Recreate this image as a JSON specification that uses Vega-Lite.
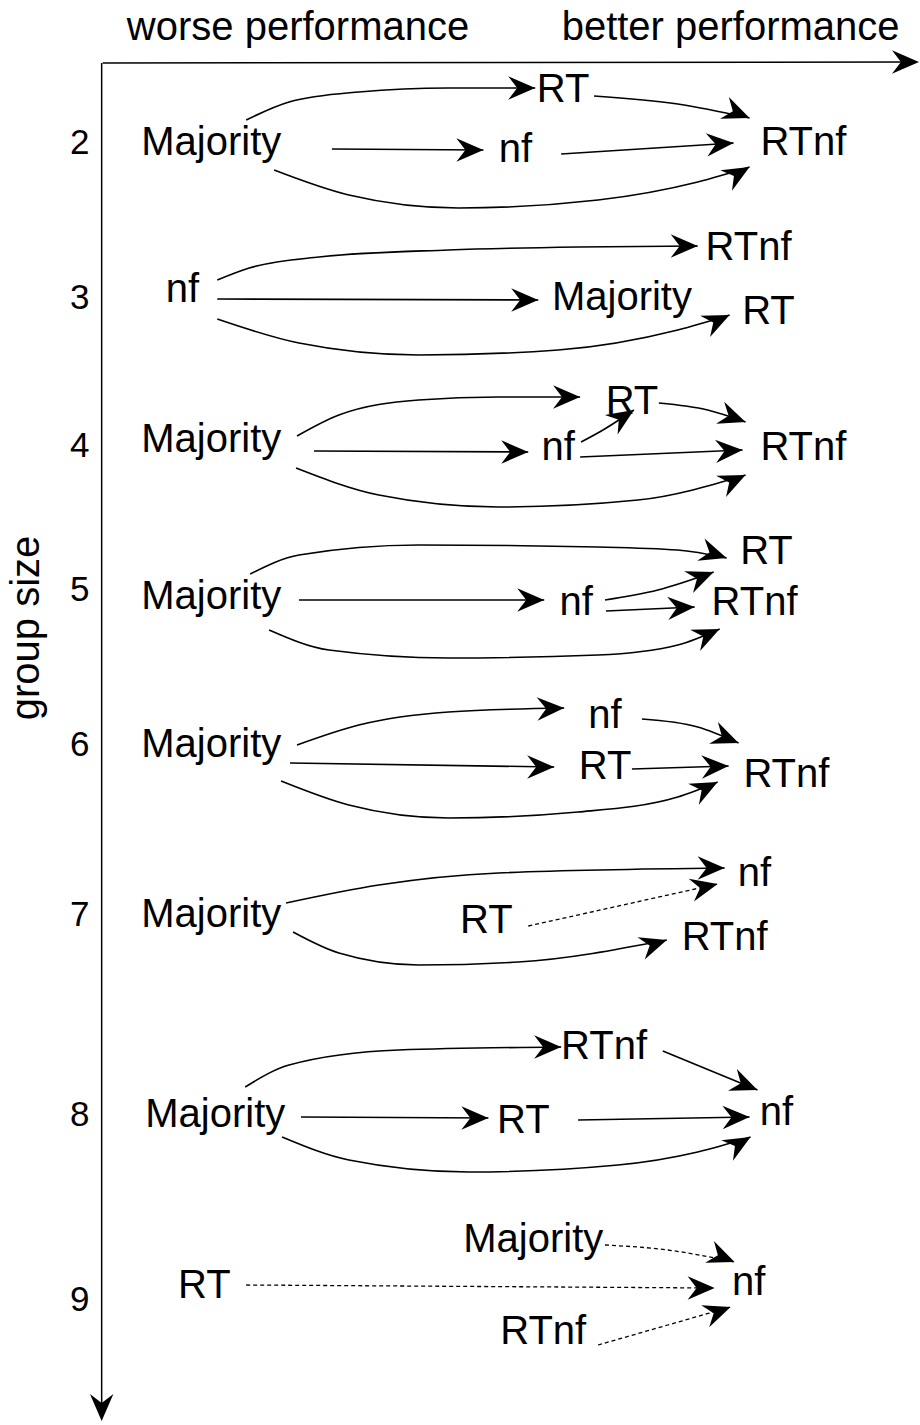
{
  "$schema": "https://vega.github.io/schema/vega-lite/v6.json",
  "width": 920,
  "height": 1425,
  "autosize": {"type": "fit", "contains": "padding"},
  "padding": 0,
  "background": "white",
  "config": {"view": {"stroke": null}},
  "datasets": {
    "nodes": [
      {"group": 2, "label": "Majority", "x": 212, "y": 143},
      {"group": 2, "label": "RT", "x": 565, "y": 90},
      {"group": 2, "label": "nf", "x": 517, "y": 150},
      {"group": 2, "label": "RTnf", "x": 806, "y": 143},
      {"group": 3, "label": "nf", "x": 183, "y": 290},
      {"group": 3, "label": "RTnf", "x": 751, "y": 248},
      {"group": 3, "label": "Majority", "x": 624, "y": 298},
      {"group": 3, "label": "RT", "x": 771, "y": 312},
      {"group": 4, "label": "Majority", "x": 212, "y": 440},
      {"group": 4, "label": "RT", "x": 634, "y": 402},
      {"group": 4, "label": "nf", "x": 560, "y": 448},
      {"group": 4, "label": "RTnf", "x": 806, "y": 448},
      {"group": 5, "label": "Majority", "x": 212, "y": 597},
      {"group": 5, "label": "RT", "x": 769, "y": 552},
      {"group": 5, "label": "nf", "x": 578, "y": 603},
      {"group": 5, "label": "RTnf", "x": 757, "y": 603},
      {"group": 6, "label": "Majority", "x": 212, "y": 745},
      {"group": 6, "label": "nf", "x": 607, "y": 716},
      {"group": 6, "label": "RT", "x": 607, "y": 767},
      {"group": 6, "label": "RTnf", "x": 789, "y": 775},
      {"group": 7, "label": "Majority", "x": 212, "y": 915},
      {"group": 7, "label": "RT", "x": 488, "y": 921},
      {"group": 7, "label": "nf", "x": 757, "y": 874},
      {"group": 7, "label": "RTnf", "x": 727, "y": 938},
      {"group": 8, "label": "Majority", "x": 216, "y": 1115},
      {"group": 8, "label": "RTnf", "x": 606, "y": 1047},
      {"group": 8, "label": "RT", "x": 525, "y": 1121},
      {"group": 8, "label": "nf", "x": 779, "y": 1113},
      {"group": 9, "label": "Majority", "x": 535, "y": 1240},
      {"group": 9, "label": "RT", "x": 205, "y": 1286},
      {"group": 9, "label": "nf", "x": 751, "y": 1283},
      {"group": 9, "label": "RTnf", "x": 545, "y": 1332}
    ],
    "headers": [
      {"label": "worse performance", "x": 299, "y": 28},
      {"label": "better performance", "x": 733, "y": 28}
    ],
    "groups": [
      {"label": "2", "x": 80, "y": 143},
      {"label": "3", "x": 80, "y": 298},
      {"label": "4", "x": 80, "y": 446},
      {"label": "5", "x": 80, "y": 590},
      {"label": "6", "x": 80, "y": 745},
      {"label": "7", "x": 80, "y": 915},
      {"label": "8", "x": 80, "y": 1115},
      {"label": "9", "x": 80, "y": 1300}
    ],
    "axisTitle": [{"label": "group size", "x": 27, "y": 628}],
    "axes": [
      {"x": 103, "y": 63, "x2": 910, "y2": 62},
      {"x": 102, "y": 63, "x2": 102, "y2": 1408}
    ],
    "solidPaths": [
      {"id": "2a", "order": 1, "x": 247, "y": 120},
      {"id": "2a", "order": 2, "x": 290, "y": 102},
      {"id": "2a", "order": 3, "x": 360, "y": 92},
      {"id": "2a", "order": 4, "x": 450, "y": 88},
      {"id": "2a", "order": 5, "x": 537, "y": 88},
      {"id": "2b", "order": 1, "x": 596, "y": 96},
      {"id": "2b", "order": 2, "x": 680, "y": 104},
      {"id": "2b", "order": 3, "x": 752, "y": 118},
      {"id": "2c", "order": 1, "x": 333, "y": 149},
      {"id": "2c", "order": 2, "x": 485, "y": 150},
      {"id": "2d", "order": 1, "x": 563, "y": 154},
      {"id": "2d", "order": 2, "x": 736, "y": 143},
      {"id": "2e", "order": 1, "x": 275, "y": 170},
      {"id": "2e", "order": 2, "x": 350, "y": 195},
      {"id": "2e", "order": 3, "x": 460, "y": 208},
      {"id": "2e", "order": 4, "x": 600, "y": 200},
      {"id": "2e", "order": 5, "x": 700, "y": 182},
      {"id": "2e", "order": 6, "x": 752, "y": 167},
      {"id": "3a", "order": 1, "x": 218, "y": 280},
      {"id": "3a", "order": 2, "x": 250, "y": 268},
      {"id": "3a", "order": 3, "x": 320, "y": 257},
      {"id": "3a", "order": 4, "x": 450, "y": 250},
      {"id": "3a", "order": 5, "x": 580, "y": 247},
      {"id": "3a", "order": 6, "x": 700, "y": 246},
      {"id": "3b", "order": 1, "x": 218, "y": 299},
      {"id": "3b", "order": 2, "x": 540, "y": 300},
      {"id": "3c", "order": 1, "x": 218, "y": 319},
      {"id": "3c", "order": 2, "x": 300, "y": 343},
      {"id": "3c", "order": 3, "x": 420, "y": 355},
      {"id": "3c", "order": 4, "x": 560, "y": 350},
      {"id": "3c", "order": 5, "x": 680, "y": 330},
      {"id": "3c", "order": 6, "x": 732, "y": 315},
      {"id": "4a", "order": 1, "x": 298, "y": 436},
      {"id": "4a", "order": 2, "x": 340, "y": 415},
      {"id": "4a", "order": 3, "x": 420, "y": 400},
      {"id": "4a", "order": 4, "x": 500, "y": 397},
      {"id": "4a", "order": 5, "x": 582, "y": 397},
      {"id": "4b", "order": 1, "x": 315, "y": 451},
      {"id": "4b", "order": 2, "x": 530, "y": 452},
      {"id": "4c", "order": 1, "x": 583, "y": 442},
      {"id": "4c", "order": 2, "x": 605, "y": 430},
      {"id": "4c", "order": 3, "x": 636, "y": 410},
      {"id": "4d", "order": 1, "x": 661, "y": 403},
      {"id": "4d", "order": 2, "x": 710, "y": 410},
      {"id": "4d", "order": 3, "x": 748, "y": 422},
      {"id": "4e", "order": 1, "x": 582, "y": 457},
      {"id": "4e", "order": 2, "x": 745, "y": 450},
      {"id": "4f", "order": 1, "x": 297, "y": 468},
      {"id": "4f", "order": 2, "x": 380, "y": 495},
      {"id": "4f", "order": 3, "x": 500, "y": 507},
      {"id": "4f", "order": 4, "x": 640, "y": 500},
      {"id": "4f", "order": 5, "x": 748, "y": 475},
      {"id": "5a", "order": 1, "x": 251, "y": 574},
      {"id": "5a", "order": 2, "x": 300, "y": 555},
      {"id": "5a", "order": 3, "x": 420, "y": 545},
      {"id": "5a", "order": 4, "x": 600, "y": 547},
      {"id": "5a", "order": 5, "x": 680, "y": 550},
      {"id": "5a", "order": 6, "x": 729, "y": 558},
      {"id": "5b", "order": 1, "x": 300, "y": 600},
      {"id": "5b", "order": 2, "x": 546, "y": 600},
      {"id": "5c", "order": 1, "x": 607, "y": 600},
      {"id": "5c", "order": 2, "x": 660, "y": 590},
      {"id": "5c", "order": 3, "x": 716, "y": 572},
      {"id": "5d", "order": 1, "x": 608, "y": 611},
      {"id": "5d", "order": 2, "x": 697, "y": 607},
      {"id": "5e", "order": 1, "x": 270, "y": 630},
      {"id": "5e", "order": 2, "x": 330, "y": 650},
      {"id": "5e", "order": 3, "x": 450, "y": 658},
      {"id": "5e", "order": 4, "x": 600, "y": 655},
      {"id": "5e", "order": 5, "x": 680, "y": 645},
      {"id": "5e", "order": 6, "x": 722, "y": 629},
      {"id": "6a", "order": 1, "x": 298, "y": 745},
      {"id": "6a", "order": 2, "x": 360, "y": 725},
      {"id": "6a", "order": 3, "x": 450, "y": 712},
      {"id": "6a", "order": 4, "x": 566, "y": 708},
      {"id": "6b", "order": 1, "x": 291, "y": 763},
      {"id": "6b", "order": 2, "x": 556, "y": 767},
      {"id": "6c", "order": 1, "x": 644, "y": 719},
      {"id": "6c", "order": 2, "x": 700, "y": 727},
      {"id": "6c", "order": 3, "x": 741, "y": 743},
      {"id": "6d", "order": 1, "x": 634, "y": 769},
      {"id": "6d", "order": 2, "x": 731, "y": 766},
      {"id": "6e", "order": 1, "x": 282, "y": 781},
      {"id": "6e", "order": 2, "x": 350, "y": 805},
      {"id": "6e", "order": 3, "x": 450, "y": 818},
      {"id": "6e", "order": 4, "x": 580, "y": 812},
      {"id": "6e", "order": 5, "x": 680, "y": 797},
      {"id": "6e", "order": 6, "x": 720, "y": 782},
      {"id": "7a", "order": 1, "x": 287, "y": 903},
      {"id": "7a", "order": 2, "x": 380, "y": 885},
      {"id": "7a", "order": 3, "x": 500, "y": 873},
      {"id": "7a", "order": 4, "x": 727, "y": 868},
      {"id": "7c", "order": 1, "x": 294, "y": 932},
      {"id": "7c", "order": 2, "x": 340, "y": 953},
      {"id": "7c", "order": 3, "x": 420, "y": 965},
      {"id": "7c", "order": 4, "x": 520, "y": 962},
      {"id": "7c", "order": 5, "x": 669, "y": 940},
      {"id": "8a", "order": 1, "x": 246, "y": 1087},
      {"id": "8a", "order": 2, "x": 290, "y": 1065},
      {"id": "8a", "order": 3, "x": 400, "y": 1050},
      {"id": "8a", "order": 4, "x": 563, "y": 1047},
      {"id": "8b", "order": 1, "x": 665, "y": 1051},
      {"id": "8b", "order": 2, "x": 760, "y": 1090},
      {"id": "8c", "order": 1, "x": 302, "y": 1117},
      {"id": "8c", "order": 2, "x": 490, "y": 1118},
      {"id": "8d", "order": 1, "x": 580, "y": 1120},
      {"id": "8d", "order": 2, "x": 752, "y": 1117},
      {"id": "8e", "order": 1, "x": 283, "y": 1137},
      {"id": "8e", "order": 2, "x": 350, "y": 1160},
      {"id": "8e", "order": 3, "x": 470, "y": 1172},
      {"id": "8e", "order": 4, "x": 620, "y": 1165},
      {"id": "8e", "order": 5, "x": 700, "y": 1152},
      {"id": "8e", "order": 6, "x": 753, "y": 1137}
    ],
    "dashedPaths": [
      {"id": "7b", "order": 1, "x": 530, "y": 926},
      {"id": "7b", "order": 2, "x": 720, "y": 884},
      {"id": "9a", "order": 1, "x": 607, "y": 1245},
      {"id": "9a", "order": 2, "x": 670, "y": 1250},
      {"id": "9a", "order": 3, "x": 737, "y": 1262},
      {"id": "9b", "order": 1, "x": 247, "y": 1285},
      {"id": "9b", "order": 2, "x": 717, "y": 1288},
      {"id": "9c", "order": 1, "x": 600, "y": 1345},
      {"id": "9c", "order": 2, "x": 670, "y": 1325},
      {"id": "9c", "order": 3, "x": 733, "y": 1307}
    ],
    "heads": [
      {"id": "2a", "x": 537, "y": 88, "heading": 90},
      {"id": "2b", "x": 752, "y": 118, "heading": 112},
      {"id": "2c", "x": 485, "y": 150, "heading": 90},
      {"id": "2d", "x": 736, "y": 143, "heading": 86},
      {"id": "2e", "x": 752, "y": 167, "heading": 60},
      {"id": "3a", "x": 700, "y": 246, "heading": 90},
      {"id": "3b", "x": 540, "y": 300, "heading": 90},
      {"id": "3c", "x": 732, "y": 315, "heading": 65},
      {"id": "4a", "x": 582, "y": 397, "heading": 90},
      {"id": "4b", "x": 530, "y": 452, "heading": 90},
      {"id": "4c", "x": 636, "y": 410, "heading": 57},
      {"id": "4d", "x": 748, "y": 422, "heading": 110},
      {"id": "4e", "x": 745, "y": 450, "heading": 87},
      {"id": "4f", "x": 748, "y": 475, "heading": 65},
      {"id": "5a", "x": 729, "y": 558, "heading": 108},
      {"id": "5b", "x": 546, "y": 600, "heading": 90},
      {"id": "5c", "x": 716, "y": 572, "heading": 68},
      {"id": "5d", "x": 697, "y": 607, "heading": 87},
      {"id": "5e", "x": 722, "y": 629, "heading": 65},
      {"id": "6a", "x": 566, "y": 708, "heading": 88},
      {"id": "6b", "x": 556, "y": 767, "heading": 90},
      {"id": "6c", "x": 741, "y": 743, "heading": 112},
      {"id": "6d", "x": 731, "y": 766, "heading": 88},
      {"id": "6e", "x": 720, "y": 782, "heading": 63},
      {"id": "7a", "x": 727, "y": 868, "heading": 90},
      {"id": "7b", "x": 720, "y": 884, "heading": 77},
      {"id": "7c", "x": 669, "y": 940, "heading": 72},
      {"id": "8a", "x": 563, "y": 1047, "heading": 90},
      {"id": "8b", "x": 760, "y": 1090, "heading": 112},
      {"id": "8c", "x": 490, "y": 1118, "heading": 90},
      {"id": "8d", "x": 752, "y": 1117, "heading": 89},
      {"id": "8e", "x": 753, "y": 1137, "heading": 60},
      {"id": "9a", "x": 737, "y": 1262, "heading": 112},
      {"id": "9b", "x": 717, "y": 1288, "heading": 90},
      {"id": "9c", "x": 733, "y": 1307, "heading": 70},
      {"id": "axisX", "x": 922, "y": 62, "heading": 90},
      {"id": "axisY", "x": 102, "y": 1421, "heading": 180}
    ]
  },
  "encoding": {
    "x": {"field": "x", "type": "quantitative", "axis": null, "scale": {"domain": [0, 920], "nice": false, "zero": false}},
    "y": {"field": "y", "type": "quantitative", "axis": null, "scale": {"domain": [0, 1425], "nice": false, "zero": false, "reverse": true}}
  },
  "layer": [
    {
      "data": {"name": "axes"},
      "mark": {"type": "rule", "color": "black", "strokeWidth": 1.5},
      "encoding": {
        "x2": {"field": "x2"},
        "y2": {"field": "y2"}
      }
    },
    {
      "data": {"name": "solidPaths"},
      "mark": {"type": "line", "interpolate": "monotone", "color": "black", "strokeWidth": 1.6},
      "encoding": {
        "detail": {"field": "id"},
        "order": {"field": "order", "type": "quantitative"}
      }
    },
    {
      "data": {"name": "dashedPaths"},
      "mark": {"type": "line", "interpolate": "monotone", "color": "black", "strokeWidth": 1.3, "strokeDash": [4, 3]},
      "encoding": {
        "detail": {"field": "id"},
        "order": {"field": "order", "type": "quantitative"}
      }
    },
    {
      "data": {"name": "heads"},
      "mark": {"type": "point", "shape": "M0,0 L-0.65,1.5 L0,1.0 L0.65,1.5 Z", "filled": true, "color": "black", "opacity": 1, "size": 1300, "strokeWidth": 0},
      "encoding": {
        "angle": {"field": "heading", "type": "quantitative", "scale": {"domain": [0, 360], "range": [0, 360]}}
      }
    },
    {
      "data": {"name": "nodes"},
      "mark": {"type": "text", "font": "Liberation Sans", "fontSize": 40, "align": "center", "baseline": "middle", "color": "black"},
      "encoding": {"text": {"field": "label"}}
    },
    {
      "data": {"name": "headers"},
      "mark": {"type": "text", "font": "Liberation Sans", "fontSize": 40, "align": "center", "baseline": "middle", "color": "black"},
      "encoding": {"text": {"field": "label"}}
    },
    {
      "data": {"name": "groups"},
      "mark": {"type": "text", "font": "Liberation Sans", "fontSize": 35, "align": "center", "baseline": "middle", "color": "black"},
      "encoding": {"text": {"field": "label"}}
    },
    {
      "data": {"name": "axisTitle"},
      "mark": {"type": "text", "font": "Liberation Sans", "fontSize": 40, "align": "center", "baseline": "middle", "angle": 270, "color": "black"},
      "encoding": {"text": {"field": "label"}}
    }
  ]
}
